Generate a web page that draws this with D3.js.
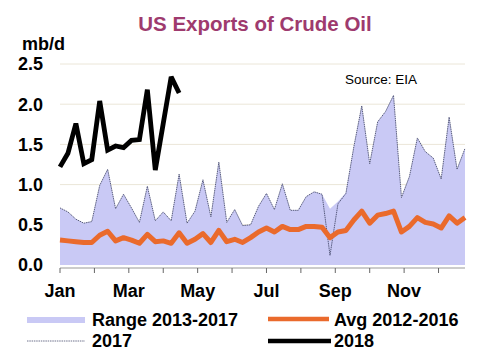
<!DOCTYPE html>
<html><head><meta charset="utf-8">
<script src="https://cdn.jsdelivr.net/npm/d3@7"></script>
<style>body{margin:0;background:#fff}svg{display:block;font-family:"Liberation Sans",Arial,sans-serif}</style>
</head><body><svg id="c" width="477" height="351"></svg>
<script>
const weeks = d3.range(52);
const monthLabels = ["Jan","","Mar","","May","","Jul","","Sep","","Nov",""];
const yTicks = [0, 0.5, 1.0, 1.5, 2.0, 2.5];
const rangeMax = [0.71,0.66,0.57,0.52,0.54,0.99,1.19,0.70,0.88,0.71,0.53,0.98,0.55,0.66,0.55,1.13,0.52,0.67,1.06,0.60,1.28,0.53,0.69,0.49,0.50,0.73,0.89,0.69,1.01,0.68,0.68,0.85,0.91,0.88,0.70,0.79,0.90,1.47,1.98,1.26,1.78,1.91,2.11,0.84,1.10,1.58,1.41,1.33,1.07,1.84,1.19,1.45];
const rangeMin = weeks.map(() => 0);
const y2017 = [0.71,0.66,0.57,0.52,0.54,0.99,1.19,0.70,0.88,0.71,0.53,0.98,0.55,0.66,0.55,1.13,0.52,0.67,1.06,0.60,1.28,0.53,0.69,0.49,0.50,0.73,0.89,0.69,1.01,0.68,0.68,0.85,0.91,0.88,0.12,0.76,0.89,1.47,1.98,1.26,1.78,1.91,2.11,0.84,1.10,1.58,1.41,1.33,1.07,1.84,1.19,1.45];
const avg1216 = [0.31,0.30,0.29,0.28,0.28,0.37,0.42,0.30,0.34,0.31,0.27,0.38,0.29,0.30,0.27,0.40,0.27,0.32,0.39,0.28,0.43,0.29,0.32,0.28,0.34,0.41,0.46,0.41,0.48,0.44,0.44,0.48,0.48,0.47,0.34,0.41,0.43,0.56,0.67,0.52,0.62,0.64,0.67,0.41,0.48,0.59,0.53,0.51,0.46,0.61,0.52,0.59];
const y2018 = [1.22,1.39,1.76,1.26,1.31,2.04,1.43,1.48,1.46,1.55,1.56,2.18,1.18,1.76,2.34,2.14];

const svg = d3.select("#c");
const x = d3.scaleLinear().domain([0, 51]).range([60, 465]);
const y = d3.scaleLinear().domain([0, 2.5]).range([265, 64]);

// title
svg.append("text").attr("x", 255).attr("y", 31).attr("text-anchor", "middle")
  .attr("font-size", 20.5).attr("font-weight", "bold").attr("fill", "#9e3a6e").text("US Exports of Crude Oil");
svg.append("text").attr("x", 22).attr("y", 50).attr("font-size", 18).attr("font-weight", "bold").text("mb/d");

// gridlines
svg.append("g").selectAll("line").data(yTicks.filter(d => d > 0)).join("line")
  .attr("x1", 60).attr("x2", 465).attr("y1", d => y(d)).attr("y2", d => y(d))
  .attr("stroke", "#ebe6d8").attr("stroke-width", 1);

// y labels
svg.append("g").selectAll("text").data(yTicks).join("text")
  .attr("x", 43).attr("y", d => y(d)).attr("dy", "0.36em").attr("text-anchor", "end")
  .attr("font-size", 18).attr("font-weight", "bold").text(d => d.toFixed(1));

// range area
svg.append("path").datum(weeks)
  .attr("d", d3.area().x(i => x(i)).y0(i => y(rangeMin[i])).y1(i => y(rangeMax[i])))
  .attr("fill", "#c9c9f5");

// 2017
svg.append("path").datum(weeks)
  .attr("d", d3.line().x(i => x(i)).y(i => y(y2017[i])))
  .attr("fill", "none").attr("stroke", "#4a4e70").attr("stroke-width", 0.9).attr("stroke-dasharray", "1.5,0.7");

// avg
svg.append("path").datum(weeks)
  .attr("d", d3.line().x(i => x(i)).y(i => y(avg1216[i])))
  .attr("fill", "none").attr("stroke", "#ea6a2c").attr("stroke-width", 5).attr("stroke-linejoin", "round");

// 2018
svg.append("path").datum(d3.range(y2018.length))
  .attr("d", d3.line().x(i => x(i)).y(i => y(y2018[i])))
  .attr("fill", "none").attr("stroke", "#000").attr("stroke-width", 4.8).attr("stroke-linejoin", "miter").attr("stroke-miterlimit", 3);

// x axis
const monthPos = d3.range(12).map(m => m * 52 / 12);
const ax = svg.append("g");
ax.append("line").attr("x1", 60).attr("x2", 465).attr("y1", 268).attr("y2", 268).attr("stroke", "#999").attr("stroke-width", 1);
ax.selectAll("line.t").data(monthPos).join("line").attr("class", "t")
  .attr("x1", d => x(d)).attr("x2", d => x(d)).attr("y1", 268).attr("y2", 273).attr("stroke", "#666").attr("stroke-width", 1);
ax.selectAll("text").data(monthPos).join("text")
  .attr("x", d => x(d)).attr("y", 297).attr("text-anchor", "middle")
  .attr("font-size", 18).attr("font-weight", "bold").text((d, i) => monthLabels[i]);

// source
svg.append("text").attr("x", 345).attr("y", 84).attr("font-size", 13.5).text("Source: EIA");

// legend
const lg = svg.append("g");
lg.append("rect").attr("x", 27).attr("y", 317).attr("width", 58).attr("height", 6).attr("fill", "#c9c9f5");
lg.append("text").attr("x", 92).attr("y", 326).attr("font-size", 18).attr("font-weight", "bold").text("Range 2013-2017");
lg.append("line").attr("x1", 268).attr("x2", 329).attr("y1", 319).attr("y2", 319).attr("stroke", "#ea6a2c").attr("stroke-width", 4.5);
lg.append("text").attr("x", 334).attr("y", 326).attr("font-size", 18).attr("font-weight", "bold").text("Avg 2012-2016");
lg.append("line").attr("x1", 27).attr("x2", 85).attr("y1", 341).attr("y2", 341).attr("stroke", "#4a4e70").attr("stroke-width", 0.8).attr("stroke-dasharray", "1.5,0.8");
lg.append("text").attr("x", 92).attr("y", 346.5).attr("font-size", 18).attr("font-weight", "bold").text("2017");
lg.append("line").attr("x1", 268).attr("x2", 331).attr("y1", 341).attr("y2", 341).attr("stroke", "#000").attr("stroke-width", 4.5);
lg.append("text").attr("x", 334).attr("y", 346.5).attr("font-size", 18).attr("font-weight", "bold").text("2018");
</script></body></html>
